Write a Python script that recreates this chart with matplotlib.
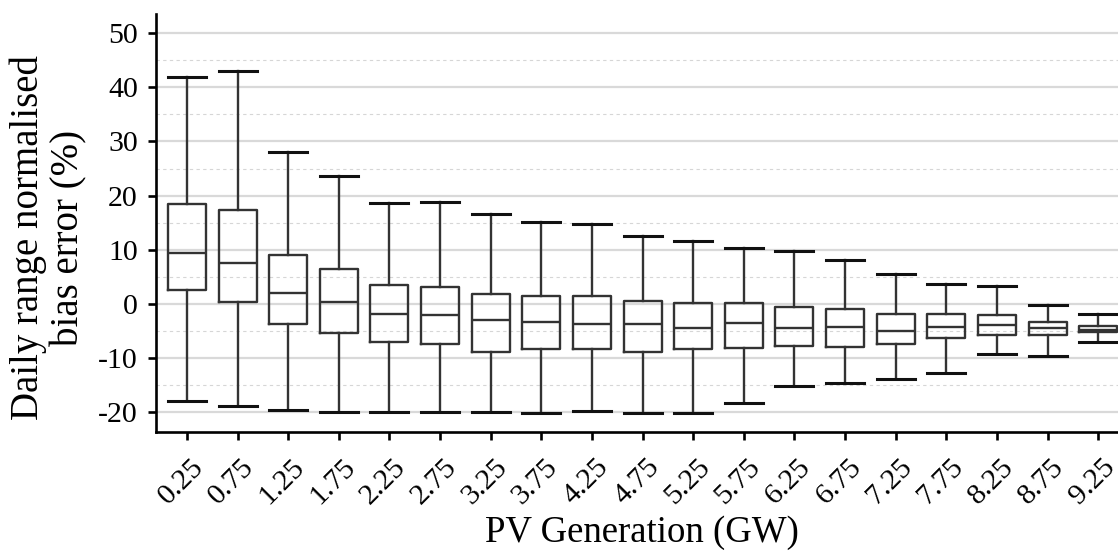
import matplotlib.pyplot as plt
import matplotlib.transforms as mtransforms
from matplotlib.ticker import MultipleLocator

plt.rcParams['font.family'] = ['Liberation Serif', 'DejaVu Serif']
plt.rcParams['axes.unicode_minus'] = False

# PV generation bins (GW)
pv_bins = ["0.25", "0.75", "1.25", "1.75", "2.25", "2.75", "3.25", "3.75", "4.25", "4.75",
           "5.25", "5.75", "6.25", "6.75", "7.25", "7.75", "8.25", "8.75", "9.25"]

# box statistics (%)
whisker_hi = [41.9, 42.9, 28.1, 23.6, 18.6, 18.8, 16.6, 15.1, 14.7, 12.5,
              11.6, 10.4, 9.7, 8.2, 5.6, 3.7, 3.3, -0.1, -1.9]
q3 = [18.5, 17.4, 9.1, 6.4, 3.5, 3.2, 1.8, 1.4, 1.5, 0.5,
      0.2, 0.2, -0.6, -0.9, -1.8, -1.8, -2.1, -3.4, -4.1]
median = [9.4, 7.6, 2.0, 0.3, -1.8, -2.0, -2.9, -3.4, -3.7, -3.7,
          -4.4, -3.5, -4.5, -4.2, -5.0, -4.2, -3.9, -4.5, -4.7]
q1 = [2.6, 0.3, -3.6, -5.3, -7.0, -7.3, -8.8, -8.3, -8.3, -8.8,
      -8.2, -8.1, -7.7, -7.9, -7.4, -6.2, -5.7, -5.8, -5.2]
whisker_lo = [-17.8, -18.8, -19.5, -19.9, -20.0, -20.0, -19.9, -20.1, -19.7, -20.1,
              -20.1, -18.2, -15.2, -14.6, -13.8, -12.8, -9.3, -9.5, -7.0]

stats = []
for i, lab in enumerate(pv_bins):
    stats.append({
        "label": lab,
        "whislo": whisker_lo[i],
        "q1": q1[i],
        "med": median[i],
        "q3": q3[i],
        "whishi": whisker_hi[i],
        "fliers": [],
    })

fig = plt.figure(figsize=(11.18, 5.52), dpi=100)
ax = fig.add_axes([156 / 1118, 1 - 432 / 552, 1 - 156 / 1118, (432 - 14) / 552])

line_col = "#333333"
ax.bxp(
    stats,
    positions=range(len(pv_bins)),
    widths=0.75,
    capwidths=0.75,
    showfliers=False,
    boxprops=dict(color=line_col, linewidth=1.7),
    medianprops=dict(color=line_col, linewidth=1.7),
    whiskerprops=dict(color=line_col, linewidth=1.7),
    capprops=dict(color="#111111", linewidth=2.2),
)

ax.set_xlim(-0.61, 18.39)
ax.set_ylim(-23.6, 53.5)
ax.yaxis.set_major_locator(MultipleLocator(10))
ax.yaxis.set_minor_locator(MultipleLocator(5))
ax.grid(True, which="major", axis="y", color="#d9d9d9", linewidth=1.6)
ax.grid(True, which="minor", axis="y", color="#d6d6d6", linewidth=0.8, linestyle=(0, (3, 3)))
ax.set_axisbelow(True)

for side in ["top", "right"]:
    ax.spines[side].set_visible(False)
for side in ["left", "bottom"]:
    ax.spines[side].set_linewidth(1.9)
    ax.spines[side].set_color("black")

ax.tick_params(axis="both", which="major", direction="out", length=6, width=1.9,
               labelsize=21.5, colors="black")
ax.tick_params(axis="y", which="minor", length=0)
ax.tick_params(axis="y", pad=7)
ax.tick_params(axis="x", pad=10)

ax.set_xticks(range(len(pv_bins)))
ax.set_xticklabels(pv_bins)
shift = mtransforms.ScaledTranslation(-0.06, 0, fig.dpi_scale_trans)
for lbl in ax.get_xticklabels():
    lbl.set_rotation(45)
    lbl.set_ha("center")
    lbl.set_va("top")
    lbl.set_transform(lbl.get_transform() + shift)

ax.set_xlabel("PV Generation (GW)", fontsize=26.5)
ax.xaxis.set_label_coords(0.505, -0.199)
ax.set_ylabel("Daily range normalised\nbias error (%)", fontsize=28, linespacing=1.12)
ax.yaxis.set_label_coords(-0.071, 0.464)

fig.savefig("out.png", dpi=100)
